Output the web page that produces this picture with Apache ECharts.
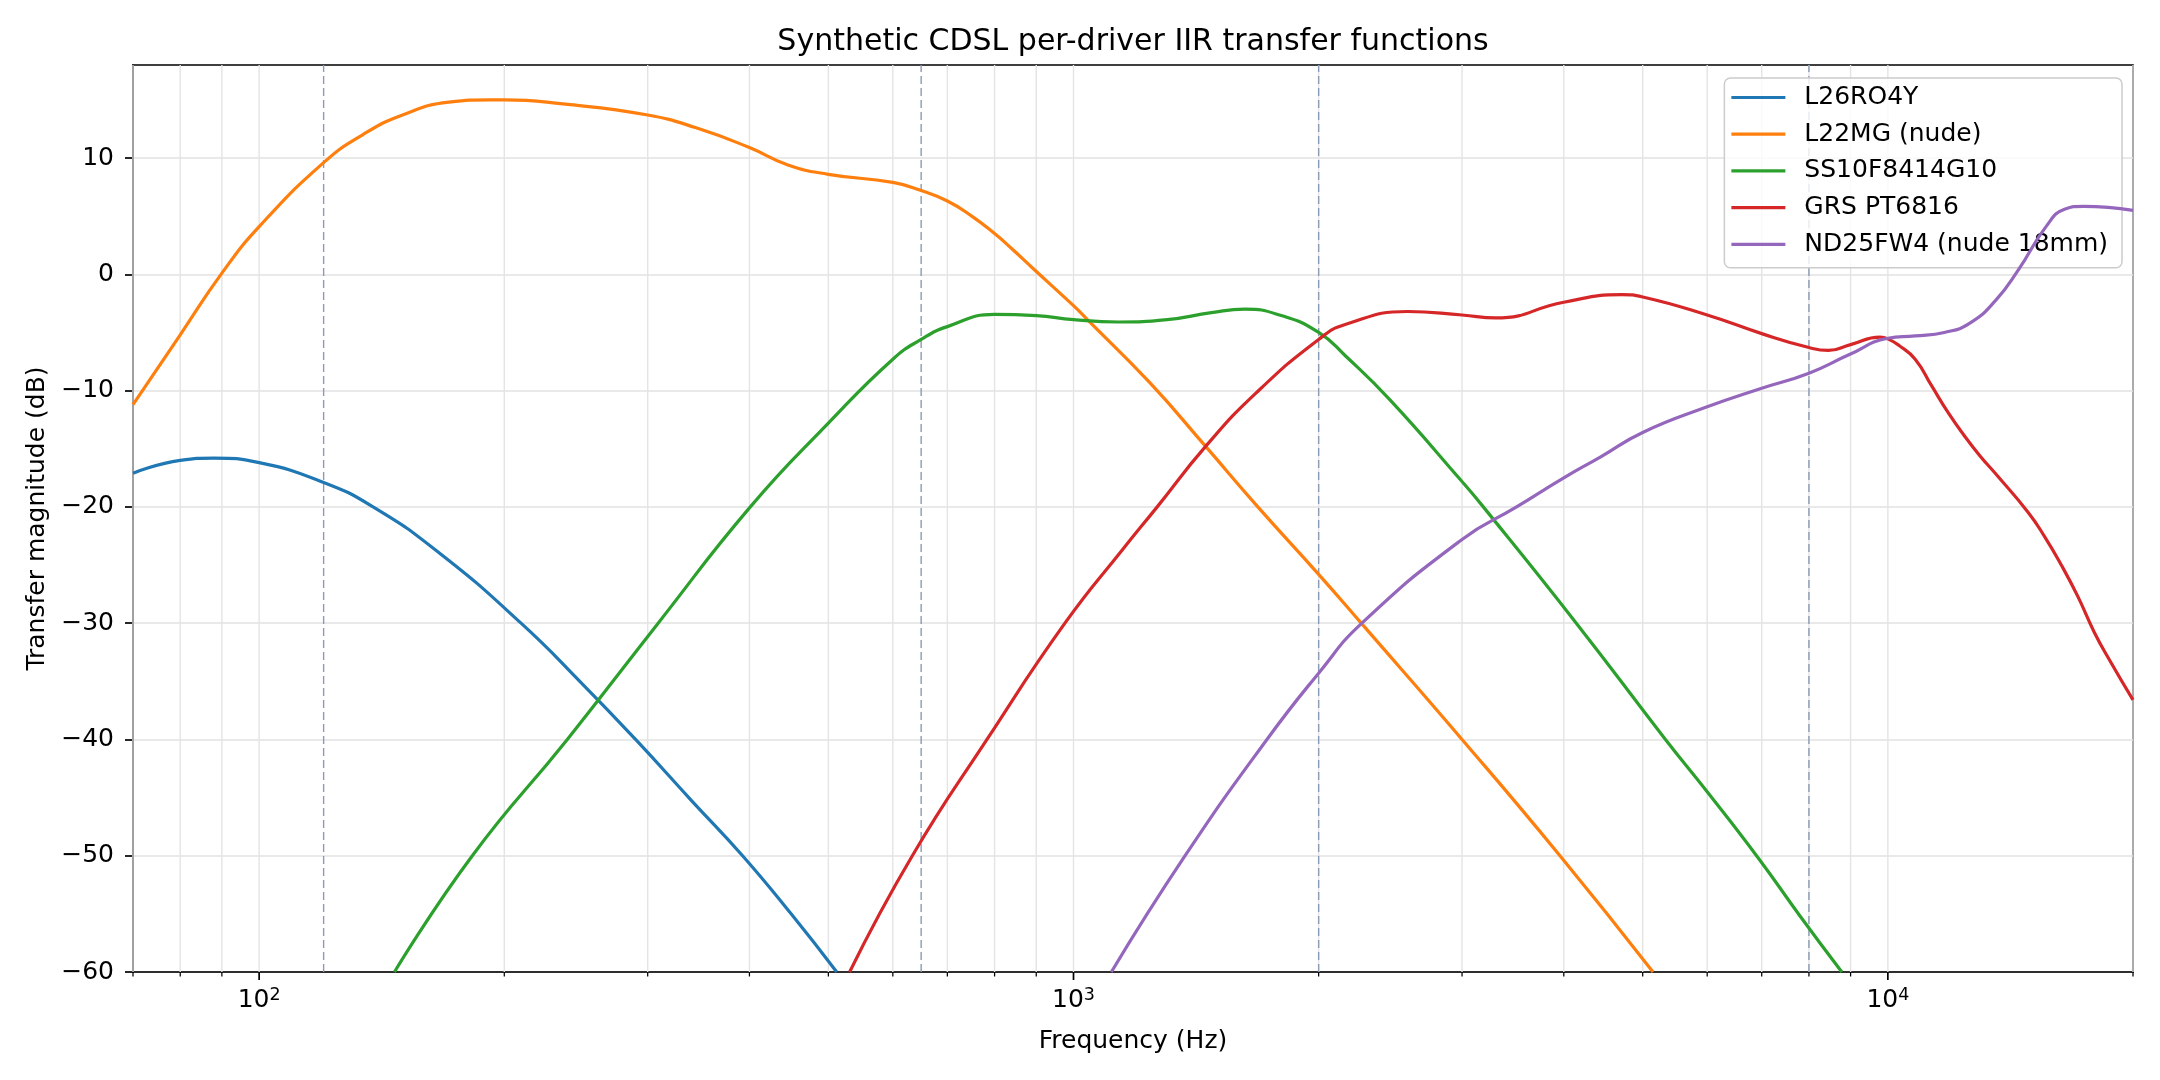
<!DOCTYPE html>
<html><head><meta charset="utf-8">
<script src="https://cdn.jsdelivr.net/npm/echarts@6/dist/echarts.min.js"></script>
<style>html,body{margin:0;padding:0;background:#fff}#chart{width:2160px;height:1080px}</style>
</head><body><div id="chart"></div>
<script>
const chartTitle = 'Synthetic CDSL per-driver IIR transfer functions';
const xLabel = 'Frequency (Hz)';
const yLabel = 'Transfer magnitude (dB)';
const seriesNames = ['L26RO4Y', 'L22MG (nude)', 'SS10F8414G10', 'GRS PT6816', 'ND25FW4 (nude 18mm)'];

const l26Freq = [70, 80, 88, 100, 120, 138, 166, 209.7, 250, 289.9, 340, 392.3, 450, 512];
const l26Db   = [-17.1, -16.0, -15.8, -16.2, -17.9, -20.0, -23.9, -30.0, -35.3, -40.0, -45.3, -50.0, -55.0, -60];

const l22Freq = [70, 80, 90, 100, 120, 134, 150, 171, 192, 200, 236, 300, 344, 400, 446, 500, 600, 650, 700, 750, 800, 840, 892, 1000, 1040, 1240, 1453, 1684, 2000, 2256, 3000, 3957, 5148];
const l22Db   = [-11.2, -5.2, 0.1, 4.1, 9.6, 12.0, 13.7, 14.8, 15.0, 15.0, 14.65, 13.7, 12.6, 10.9, 9.4, 8.6, 7.9, 7.2, 6.3, 5.0, 3.5, 2.2, 0.5, -2.7, -3.9, -9.3, -14.8, -20.0, -25.8, -30.0, -40.0, -50.0, -60];

const ssFreq = [146.6, 182.7, 239, 309, 401, 500, 600, 650, 700, 800, 900, 1000, 1135, 1303, 1477, 1622, 1791, 2000, 2160, 2447, 2985, 3186, 4144, 5332, 6000, 6950, 7776, 8780];
const ssDb   = [-60, -50, -40, -30, -20, -12.8, -7.3, -5.6, -4.5, -3.45, -3.55, -3.9, -4.1, -3.9, -3.3, -3.0, -3.5, -5.0, -7.05, -10.8, -17.65, -20.0, -30.0, -40.0, -44.5, -50.3, -55.05, -60];

const grsFreq = [531, 634, 783, 976, 1151, 1267, 1453, 1676, 2000, 2160, 2571, 3000, 3300, 4000, 4714, 5000, 6000, 7000, 8000, 8450, 9000, 9780, 10000, 10313, 10803, 11320, 11860, 12420, 12970, 13580, 14880, 15590, 16330, 17110, 17930, 18760, 20000];
const grsDb   = [-60, -50, -40, -30, -23.6, -20.0, -14.8, -10.2, -5.6, -4.3, -3.2, -3.5, -3.75, -2.4, -1.75, -1.95, -3.5, -5.1, -6.3, -6.55, -6.05, -5.4, -5.55, -6.1, -7.3, -9.6, -11.9, -13.9, -15.6, -17.2, -20.5, -22.6, -25.0, -27.7, -30.8, -33.3, -36.6];

const ndFreq = [1113, 1371, 1728, 2000, 2260, 3000, 3500, 4000, 4440, 5000, 6000, 7000, 8000, 8970, 10000, 10800, 11730, 12610, 13580, 14470, 15640, 16480, 17380, 20000];
const ndDb   = [-60, -50, -40, -34.3, -30, -22.8, -20.0, -17.5, -15.7, -13.6, -11.4, -9.8, -8.5, -6.9, -5.5, -5.3, -5.0, -4.2, -2.2, 0.4, 4.1, 5.6, 5.85, 5.5];

const crossoverFreqs = [120, 650, 2000, 8000];
const majorFreqs = [100, 1000, 10000];
const minorFreqs = [70, 80, 90, 200, 300, 400, 500, 600, 700, 800, 900, 2000, 3000, 4000, 5000, 6000, 7000, 8000, 9000, 20000];
const yTicks = [-60, -50, -40, -30, -20, -10, 0, 10];
const X_MIN = 70, X_MAX = 20000, Y_MIN = -60, Y_MAX = 18;

const colors = ['#1f77b4', '#ff7f0e', '#2ca02c', '#d62728', '#9467bd'];
const FONT = 'DejaVu Sans';
const pairs = (fs, ds) => fs.map((f, i) => [f, ds[i]]);
const lineData = [pairs(l26Freq, l26Db), pairs(l22Freq, l22Db), pairs(ssFreq, ssDb), pairs(grsFreq, grsDb), pairs(ndFreq, ndDb)];

function vLine(stroke, width, dash) {
  return function (params, api) {
    const f = api.value(0);
    const a = api.coord([f, Y_MIN]);
    const b = api.coord([f, Y_MAX]);
    return { type: 'line', shape: { x1: a[0], y1: a[1], x2: b[0], y2: b[1] },
      style: { stroke: stroke, lineWidth: width, lineDash: dash || null } };
  };
}
function tickMarks(len, width) {
  return function (params, api) {
    const a = api.coord([api.value(0), Y_MIN]);
    return { type: 'line', shape: { x1: a[0], y1: a[1], x2: a[0], y2: a[1] + len },
      style: { stroke: '#000', lineWidth: width } };
  };
}

const series = [
  { type: 'custom', name: '_grid', silent: true, z: 1, clip: false,
    data: majorFreqs.concat(minorFreqs).map(f => [f, Y_MIN]),
    renderItem: vLine('#e4e4e4', 1.4) },
  { type: 'custom', name: '_xover', silent: true, z: 1, clip: false,
    data: crossoverFreqs.map(f => [f, Y_MIN]),
    renderItem: vLine('#8a9bb5', 1.4, [8, 4]) },
  { type: 'custom', name: '_minorTicks', silent: true, z: 5, clip: false,
    data: minorFreqs.map(f => [f, Y_MIN]),
    renderItem: tickMarks(4.5, 1.25) },
  { type: 'custom', name: '_majorTicks', silent: true, z: 5, clip: false,
    data: majorFreqs.map(f => [f, Y_MIN]),
    renderItem: tickMarks(8, 1.7) }
];
seriesNames.forEach((name, i) => {
  series.push({
    type: 'line', name: name, data: lineData[i], smooth: 0.5, symbol: 'none', showSymbol: false,
    z: 3 + i, clip: true, color: colors[i],
    lineStyle: { color: colors[i], width: 3.2 }
  });
});

const chart = echarts.init(document.getElementById('chart'), null, { renderer: 'canvas' });
chart.setOption({
  animation: false,
  backgroundColor: '#ffffff',
  textStyle: { fontFamily: FONT },
  graphic: [{
    type: 'text', x: 1133, y: 42, z: 10,
    style: { text: chartTitle, fontFamily: FONT, fontSize: 30, fill: '#000', align: 'center', verticalAlign: 'middle' }
  }],
  grid: { left: 133, right: 27, top: 65, bottom: 108, show: true, borderColor: '#000', borderWidth: 1.7, backgroundColor: 'transparent', containLabel: false },
  legend: {
    data: seriesNames, orient: 'vertical', right: 38, top: 78, selectedMode: false,
    icon: 'rect', itemWidth: 54, itemHeight: 3.2, itemGap: 11.7,
    padding: [7, 14, 11, 7],
    backgroundColor: 'rgba(255,255,255,0.8)', borderColor: '#cccccc', borderWidth: 1.5, borderRadius: 6,
    textStyle: { fontFamily: FONT, fontSize: 25, color: '#000', padding: [0, 0, 0, 14] }
  },
  xAxis: {
    type: 'log', logBase: 10, min: X_MIN, max: X_MAX,
    name: xLabel, nameLocation: 'middle', nameGap: 57,
    nameTextStyle: { fontFamily: FONT, fontSize: 25, color: '#000' },
    axisLine: { show: true, onZero: false, lineStyle: { color: '#000', width: 1.7 } },
    axisTick: { show: false },
    axisLabel: {
      show: true, margin: 14, customValues: majorFreqs,
      formatter: v => '{b|10}{s|' + Math.round(Math.log10(v)) + '}',
      rich: {
        b: { fontFamily: FONT, fontSize: 25, color: '#000', lineHeight: 27, verticalAlign: 'bottom' },
        s: { fontFamily: FONT, fontSize: 17.5, color: '#000', lineHeight: 17, verticalAlign: 'top' }
      }
    },
    splitLine: { show: false }, minorTick: { show: false }, minorSplitLine: { show: false }
  },
  yAxis: {
    type: 'value', min: Y_MIN, max: Y_MAX, interval: 10,
    name: yLabel, nameLocation: 'middle', nameGap: 82,
    nameTextStyle: { fontFamily: FONT, fontSize: 25, color: '#000' },
    axisLine: { show: true, onZero: false, lineStyle: { color: '#000', width: 1.7 } },
    axisTick: { show: true, length: 8, lineStyle: { color: '#000', width: 1.7 }, customValues: yTicks },
    axisLabel: {
      show: true, margin: 19, customValues: yTicks,
      fontFamily: FONT, fontSize: 25, color: '#000',
      formatter: v => (v < 0 ? '\u2212' + Math.abs(v) : String(v))
    },
    splitLine: { show: true, lineStyle: { color: '#e2e2e2', width: 1.7 } }
  },
  series: series
});
</script></body></html>
